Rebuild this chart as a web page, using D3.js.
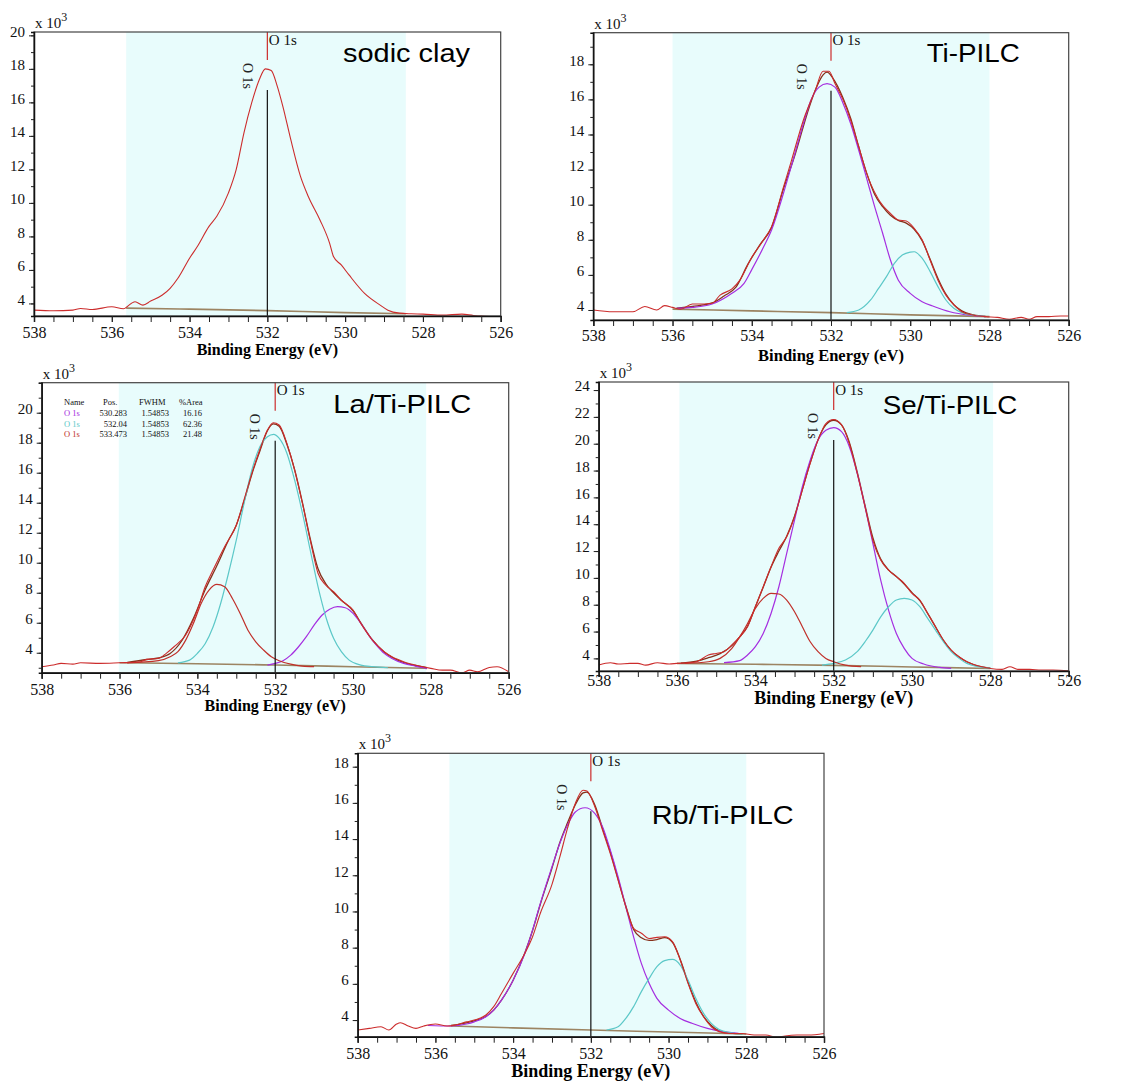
<!DOCTYPE html>
<html>
<head>
<meta charset="utf-8">
<script src="https://cdn.jsdelivr.net/npm/d3@7"></script>
<style>
  html, body { margin: 0; padding: 0; background: #fff; }
  svg { display: block; }
  .tick text { font-family: "Liberation Serif", "Times New Roman", serif; fill: #111; }
</style>
</head>
<body>
<svg id="chart" width="1148" height="1082"></svg>
<script>
// ---------------- data (binding energy in eV, counts in units of 10^3) ----------------
const panelNames = ["sodic clay", "Ti-PILC", "La/Ti-PILC", "Se/Ti-PILC", "Rb/Ti-PILC"];
const energyTicks = [538, 536, 534, 532, 530, 528, 526];
const peakLabel = "O 1s";
const xAxisTitle = "Binding Energy (eV)";

// sodic clay
const sodicRaw = [[538,3.6],[537.5,3.56],[537,3.6],[536.8,3.7],[536.5,3.64],[536,3.8],[535.7,3.68],[535.5,4.0],[535.4,4.1],[535.2,3.9],[535,4.14],[534.7,4.5],[534.5,4.9],[534.3,5.5],[534,6.7],[533.8,7.4],[533.5,8.6],[533.3,9.2],[533,10.6],[532.8,12.0],[532.6,14.2],[532.4,16.0],[532.2,17.4],[532.05,18.0],[531.9,17.9],[531.75,17.0],[531.6,15.75],[531.4,13.8],[531.15,11.6],[530.95,10.4],[530.65,9.0],[530.4,7.6],[530.3,6.8],[530.1,6.3],[529.9,5.7],[529.5,4.6],[529.1,3.9],[528.9,3.6],[528.6,3.42],[528.3,3.38],[528,3.36],[527.5,3.3],[527,3.36],[526.7,3.28],[526.5,3.24],[526.3,3.22]];
const sodicBase = [[535.63,3.72],[534,3.66],[532,3.57],[530,3.45],[528.44,3.38]];

// Ti-PILC
const tiRaw = [[538,4.0],[537.5,3.9],[537,3.9],[536.7,4.2],[536.4,4.0],[536.2,4.25],[536,4.15],[535.8,4.04],[535.5,4.34],[535.2,4.34],[535,4.38],[534.8,4.85],[534.5,5.2],[534.3,5.7],[534,7.0],[533.7,8.0],[533.5,8.75],[533.2,11.0],[533,12.5],[532.7,14.8],[532.4,16.5],[532.2,17.6],[532.05,17.6],[531.9,16.9],[531.7,16.0],[531.5,14.8],[531.3,13.3],[531.1,11.8],[531,11.2],[530.8,10.3],[530.5,9.5],[530.3,9.13],[530.1,9.07],[529.9,8.65],[529.7,8.0],[529.5,6.85],[529.3,5.7],[529.1,4.85],[528.9,4.3],[528.7,3.9],[528.4,3.7],[528.1,3.62],[527.8,3.58],[527.5,3.47],[527.2,3.58],[527,3.47],[526.8,3.62],[526.5,3.62],[526.2,3.66],[526,3.66]];
const tiFit = [[535.9,4.1],[535.5,4.2],[535,4.4],[534.7,4.8],[534.4,5.3],[534.1,6.6],[533.8,7.7],[533.5,8.7],[533.2,10.9],[532.9,12.9],[532.6,15.2],[532.4,16.5],[532.2,17.4],[532.1,17.55],[531.95,17.2],[531.7,16.1],[531.5,14.9],[531.3,13.3],[531.1,11.8],[530.9,10.6],[530.7,9.9],[530.5,9.4],[530.3,9.1],[530.1,8.95],[529.9,8.6],[529.7,7.95],[529.5,6.9],[529.3,5.8],[529.1,4.9],[528.9,4.3],[528.7,3.95],[528.4,3.72],[528.1,3.63]];
const tiMain = [[535.9,4.1],[535.5,4.15],[535,4.34],[534.5,4.95],[534.2,5.5],[534,6.3],[533.7,7.6],[533.5,8.56],[533.2,10.65],[533,12.2],[532.7,14.6],[532.5,16.0],[532.3,16.7],[532.1,16.9],[531.9,16.7],[531.7,15.8],[531.5,14.6],[531.3,13.1],[531.1,11.5],[530.9,9.9],[530.7,8.4],[530.5,6.85],[530.3,5.7],[530,4.95],[529.7,4.47],[529.4,4.2],[529,3.9],[528.5,3.7],[528.1,3.62]];
const tiLow = [[531.6,3.85],[531.3,4.0],[531,4.57],[530.8,5.23],[530.6,5.9],[530.4,6.66],[530.2,7.13],[530,7.3],[529.9,7.32],[529.7,6.95],[529.5,6.2],[529.3,5.33],[529.1,4.57],[528.9,4.1],[528.7,3.85],[528.4,3.7],[528.1,3.62]];
const tiBase = [[536,4.05],[534,3.95],[532,3.85],[530,3.72],[528,3.62]];

// La/Ti-PILC
const laRaw = [[538,3.07],[537.7,3.18],[537.5,3.29],[537.2,3.24],[537,3.33],[536.5,3.29],[536,3.33],[535.5,3.38],[535.3,3.56],[535,3.62],[534.8,3.96],[534.6,4.4],[534.3,5.18],[534,6.84],[533.8,8.4],[533.6,9.5],[533.3,11.07],[533,12.5],[532.8,14.2],[532.6,15.96],[532.4,17.5],[532.2,18.84],[532.05,19.33],[531.9,19.18],[531.7,17.96],[531.5,16.18],[531.3,13.96],[531.1,11.5],[530.9,9.3],[530.7,8.5],[530.5,8.07],[530.3,7.5],[530,6.84],[529.8,5.96],[529.5,4.84],[529.2,4.07],[529,3.73],[528.7,3.4],[528.4,3.18],[528,2.96],[527.7,2.84],[527.5,2.84],[527.2,2.67],[527,2.84],[526.8,2.73],[526.5,3.02],[526.3,3.07],[526,2.73]];
const laFit = [[535.8,3.35],[535.3,3.55],[535,3.65],[534.7,3.95],[534.4,4.8],[534.1,6.3],[533.8,8.2],[533.5,9.8],[533.2,11.5],[533,12.5],[532.8,14.1],[532.6,15.9],[532.4,17.4],[532.2,18.8],[532.05,19.25],[531.9,19.1],[531.7,17.9],[531.5,16.2],[531.3,14.0],[531.1,11.6],[530.9,9.6],[530.7,8.6],[530.5,8.0],[530.3,7.5],[530,6.8],[529.8,6.0],[529.5,4.85],[529.2,4.05],[529,3.7],[528.7,3.35],[528.4,3.15],[528.1,3.0]];
const laLow = [[532.2,3.18],[532,3.29],[531.8,3.47],[531.6,3.84],[531.4,4.4],[531.2,5.07],[531,5.84],[530.8,6.5],[530.6,6.9],[530.4,7.07],[530.2,7.0],[530,6.62],[529.8,5.96],[529.6,5.18],[529.4,4.51],[529.2,3.96],[529,3.62],[528.7,3.29],[528.4,3.11],[528.1,2.96]];
const laMain = [[534.5,3.33],[534.2,3.51],[534,3.96],[533.8,4.6],[533.6,5.7],[533.4,7.3],[533.2,9.3],[533,11.5],[532.8,13.96],[532.6,16.18],[532.4,17.7],[532.2,18.4],[532.04,18.56],[531.9,18.3],[531.7,17.3],[531.5,15.5],[531.3,13.3],[531.1,10.84],[530.9,8.4],[530.7,6.4],[530.5,4.96],[530.3,4.07],[530.1,3.51],[529.8,3.18],[529.5,3.07],[529.1,3.0]];
const laHigh = [[535.8,3.33],[535,3.47],[534.7,3.73],[534.5,4.07],[534.3,4.84],[534.1,5.96],[533.9,7.3],[533.7,8.18],[533.5,8.56],[533.3,8.4],[533.1,7.62],[532.9,6.62],[532.7,5.5],[532.5,4.73],[532.3,4.18],[532.1,3.73],[531.9,3.47],[531.6,3.24],[531.3,3.11],[531,3.07]];
const laBase = [[536,3.33],[534,3.27],[532,3.18],[530,3.07],[528.1,2.96]];

// peak table shown inside the La/Ti-PILC panel
const tableHeader = ["Name", "Pos.", "FWHM", "%Area"];
const tableNames = ["O 1s", "O 1s", "O 1s"];
const tablePos = ["530.283", "532.04", "533.473"];
const tableFwhm = ["1.54853", "1.54853", "1.54853"];
const tableArea = ["16.16", "62.36", "21.48"];

// Se/Ti-PILC
const seRaw = [[538,3.5],[537.7,3.68],[537.5,3.58],[537.2,3.63],[537,3.63],[536.8,3.5],[536.5,3.68],[536.2,3.58],[536,3.63],[535.7,3.68],[535.5,3.75],[535.2,4.25],[535,4.37],[534.8,4.5],[534.6,5.0],[534.4,5.6],[534.2,6.36],[534,7.85],[533.8,9.34],[533.6,10.83],[533.4,12.2],[533.2,13.07],[533,14.56],[532.8,16.55],[532.6,18.53],[532.4,20.27],[532.2,21.5],[532,21.8],[531.8,21.4],[531.6,20.0],[531.4,17.8],[531.2,15.3],[531,12.8],[530.8,11.33],[530.6,10.58],[530.4,10.09],[530.2,9.6],[530,8.84],[529.8,8.35],[529.6,7.35],[529.4,6.36],[529.2,5.37],[529,4.62],[528.8,4.12],[528.6,3.75],[528.3,3.43],[528,3.25],[527.7,3.18],[527.5,3.38],[527.3,3.18],[527,3.18],[526.7,3.13],[526.4,3.13],[526,3.08]];
const seFit = [[535.9,3.65],[535.5,3.8],[535.2,4.05],[534.9,4.35],[534.6,4.95],[534.4,5.6],[534.2,6.4],[534,7.85],[533.8,9.3],[533.6,10.8],[533.4,12.0],[533.2,13.1],[533,14.6],[532.8,16.6],[532.6,18.6],[532.4,20.3],[532.2,21.4],[532,21.75],[531.8,21.4],[531.6,20.1],[531.4,17.9],[531.2,15.4],[531,13.0],[530.8,11.4],[530.6,10.6],[530.4,10.1],[530.2,9.55],[530,8.9],[529.8,8.3],[529.6,7.35],[529.4,6.35],[529.2,5.35],[529,4.6],[528.8,4.1],[528.6,3.75],[528.3,3.43],[528,3.28]];
const seMain = [[534.8,3.68],[534.4,3.83],[534.2,4.25],[534,4.87],[533.8,5.86],[533.6,7.35],[533.4,9.34],[533.2,11.83],[533,14.3],[532.8,16.8],[532.6,18.78],[532.4,20.27],[532.2,21.0],[532,21.2],[531.8,20.9],[531.6,19.78],[531.4,17.8],[531.2,15.3],[531,12.57],[530.8,9.84],[530.6,7.6],[530.4,5.86],[530.2,4.75],[530,4.0],[529.7,3.58],[529.3,3.33],[529,3.25]];
const seHigh = [[535.8,3.63],[535.2,3.75],[534.9,4.0],[534.6,4.75],[534.4,5.6],[534.2,6.6],[534,7.73],[533.8,8.47],[533.6,8.84],[533.4,8.8],[533.2,8.35],[533,7.48],[532.8,6.36],[532.6,5.24],[532.4,4.5],[532.2,4.0],[532,3.75],[531.7,3.5],[531.3,3.38]];
const seLow = [[532.3,3.5],[532,3.63],[531.7,3.88],[531.4,4.5],[531.2,5.24],[531,6.11],[530.8,7.1],[530.6,7.85],[530.4,8.35],[530.2,8.47],[530,8.35],[529.8,7.85],[529.6,6.98],[529.4,6.11],[529.2,5.24],[529,4.5],[528.8,4.0],[528.6,3.63],[528.3,3.38],[528,3.25]];
const seBase = [[536,3.63],[534,3.56],[532,3.48],[530,3.36],[528,3.25]];

// Rb/Ti-PILC
const rbRaw = [[538,3.45],[537.7,3.54],[537.4,3.63],[537.2,3.45],[537,3.78],[536.9,3.85],[536.7,3.67],[536.5,3.54],[536.3,3.67],[536,3.78],[535.7,3.67],[535.5,3.72],[535.2,3.9],[535,4.0],[534.7,4.28],[534.5,4.74],[534.3,5.47],[534,6.58],[533.7,7.68],[533.5,8.6],[533.3,9.9],[533,11.5],[532.8,13.0],[532.6,14.6],[532.4,15.97],[532.2,16.7],[532.1,16.65],[531.9,15.8],[531.7,14.5],[531.5,13.2],[531.3,11.74],[531.1,10.26],[530.9,9.07],[530.7,8.8],[530.5,8.51],[530.3,8.57],[530.1,8.6],[529.9,8.33],[529.7,7.32],[529.5,6.03],[529.3,4.92],[529.1,4.18],[528.9,3.63],[528.7,3.36],[528.4,3.26],[528.1,3.26],[527.8,3.17],[527.5,3.17],[527.2,3.04],[527,3.12],[526.7,3.17],[526.4,3.17],[526,3.26]];
const rbFit = [[535.6,3.7],[535.2,3.85],[535,3.95],[534.7,4.2],[534.5,4.55],[534.3,5.1],[534,6.2],[533.7,7.7],[533.5,8.95],[533.3,10.4],[533,12.4],[532.8,13.8],[532.6,14.9],[532.4,15.9],[532.2,16.55],[532.1,16.6],[531.9,15.9],[531.7,14.6],[531.5,13.3],[531.3,11.8],[531.1,10.3],[530.9,9.0],[530.7,8.55],[530.5,8.4],[530.3,8.45],[530.1,8.55],[529.9,8.3],[529.7,7.35],[529.5,6.1],[529.3,5.0],[529.1,4.2],[528.9,3.7],[528.7,3.4],[528.4,3.28],[528.1,3.24]];
const rbMain = [[536.2,3.7],[535.6,3.67],[535.2,3.78],[535,3.9],[534.7,4.18],[534.5,4.55],[534.3,5.1],[534,6.2],[533.7,7.68],[533.5,8.97],[533.3,10.45],[533,12.47],[532.8,13.76],[532.6,14.78],[532.4,15.5],[532.15,15.73],[531.9,15.42],[531.7,14.68],[531.5,13.4],[531.3,11.92],[531.1,10.26],[530.9,8.6],[530.7,7.13],[530.5,6.03],[530.3,5.2],[530,4.55],[529.7,4.09],[529.4,3.82],[529,3.54],[528.6,3.36],[528.2,3.26]];
const rbLow = [[531.6,3.45],[531.3,3.63],[531.1,4.09],[530.9,4.74],[530.7,5.57],[530.5,6.3],[530.3,6.95],[530.1,7.28],[529.9,7.35],[529.7,7.04],[529.5,6.21],[529.3,5.2],[529.1,4.37],[528.9,3.82],[528.7,3.48],[528.4,3.3],[528.1,3.23]];
const rbBase = [[535.6,3.67],[534,3.57],[532,3.45],[530,3.34],[528,3.23]];

// ---------------- styling ----------------
const colors = {
  shade: "#e8fcfc",
  raw: "#cc2c2c",
  fit: "#86301a",
  base: "#9c8462",
  purple: "#a52ee0",
  cyan: "#5cc8c8",
  redComp: "#c0302a",
  frame: "#444"
};

// layout for each panel (pixel frame, y range and decorations)
const panels = [
  { name: panelNames[0], box: [34, 32, 500.7, 316], y: [3.25, 20.2], yMax: 20, shade: [535.63, 528.44],
    raw: sodicRaw, base: sodicBase, fit: null, comps: [], xPad: 4.5,
    title: { x: 343, y: 61.7, w: 127 }, rot: -24.6, axisTitle: { y: 355, size: 16 } },
  { name: panelNames[1], box: [593.3, 32.7, 1068.7, 320], y: [3.43, 19.8], yMax: 18, shade: [536, 528],
    raw: tiRaw, base: tiBase, fit: tiFit, comps: [[tiMain, colors.purple], [tiLow, colors.cyan]], xPad: 4,
    title: { x: 926.7, y: 61.7, w: 93 }, rot: -34.3, axisTitle: { y: 361, size: 16.5 } },
  { name: panelNames[2], box: [41.7, 382.7, 508.7, 672.7], y: [2.67, 22], yMax: 20, shade: [536.02, 528.12],
    raw: laRaw, base: laBase, fit: laFit, comps: [[laLow, colors.purple], [laMain, colors.cyan], [laHigh, colors.redComp]], xPad: 5,
    title: { x: 333.3, y: 412.7, w: 138 }, rot: -25, axisTitle: { y: 711, size: 16 }, table: true },
  { name: panelNames[3], box: [598.7, 382, 1068.7, 671], y: [3.06, 24.6], yMax: 24, shade: [535.94, 527.93],
    raw: seRaw, base: seBase, fit: seFit, comps: [[seMain, colors.purple], [seLow, colors.cyan], [seHigh, colors.redComp]], xPad: -2.5,
    title: { x: 882.7, y: 414, w: 134.6 }, rot: -25.7, axisTitle: { y: 704, size: 18 } },
  { name: panelNames[4], box: [357.7, 753.3, 824, 1036.7], y: [3.08, 18.74], yMax: 18, shade: [535.64, 528],
    raw: rbRaw, base: rbBase, fit: rbFit, comps: [[rbMain, colors.purple], [rbLow, colors.cyan]], xPad: 5,
    title: { x: 651.7, y: 824.3, w: 142 }, rot: -34.2, axisTitle: { y: 1077, size: 18 } }
];

const svg = d3.select("#chart");

panels.forEach((p, i) => {
  const [L, T, R, B] = p.box;
  const x = d3.scaleLinear().domain([538, 526]).range([L, R]);
  const y = d3.scaleLinear().domain(p.y).range([B, T]);
  const g = svg.append("g").attr("class", "panel");

  const clipId = "clip" + i;
  svg.append("clipPath").attr("id", clipId)
    .append("rect").attr("x", L).attr("y", T).attr("width", R - L).attr("height", B - T);

  // fitting region
  g.append("rect")
    .attr("x", x(p.shade[0])).attr("y", T)
    .attr("width", x(p.shade[1]) - x(p.shade[0])).attr("height", B - T)
    .attr("fill", colors.shade);

  const line = d3.line().x(d => x(d[0])).y(d => y(d[1])).curve(d3.curveMonotoneX);
  const plot = g.append("g").attr("clip-path", `url(#${clipId})`);

  plot.append("path").attr("d", line(p.base))
    .attr("fill", "none").attr("stroke", colors.base).attr("stroke-width", 1.6);
  if (p.fit) {
    plot.append("path").attr("d", line(p.fit))
      .attr("fill", "none").attr("stroke", colors.fit).attr("stroke-width", 1.3);
  }
  p.comps.forEach(([data, c]) => {
    plot.append("path").attr("d", line(data))
      .attr("fill", "none").attr("stroke", c).attr("stroke-width", 1.2);
  });
  plot.append("path").attr("d", line(p.raw))
    .attr("fill", "none").attr("stroke", colors.raw).attr("stroke-width", 1.1);

  // peak marker at 532 eV
  const mx = x(532);
  g.append("line").attr("x1", mx).attr("x2", mx).attr("y1", T).attr("y2", T + 28)
    .attr("stroke", colors.raw).attr("stroke-width", 1.2);
  g.append("line").attr("x1", mx).attr("x2", mx).attr("y1", T + 58).attr("y2", B)
    .attr("stroke", "#111").attr("stroke-width", 1.2);
  g.append("text").attr("x", mx + 1.5).attr("y", T + 12.5)
    .attr("font-family", "Liberation Serif, serif").attr("font-size", 15).attr("fill", "#111")
    .text(peakLabel);
  g.append("text")
    .attr("transform", `translate(${mx + p.rot},${T + 31}) rotate(90)`)
    .attr("font-family", "Liberation Serif, serif").attr("font-size", 14).attr("fill", "#222")
    .text(peakLabel);

  // frame
  g.append("rect").attr("x", L).attr("y", T).attr("width", R - L).attr("height", B - T)
    .attr("fill", "none").attr("stroke", colors.frame).attr("stroke-width", 1.2);

  // x axis: minor ticks every 0.5 eV, labelled every 2 eV
  const xMinor = d3.axisBottom(x).tickValues(d3.range(526, 538.01, 0.5)).tickSize(6).tickFormat("");
  g.append("g").attr("transform", `translate(0,${B})`).call(xMinor)
    .call(a => a.select(".domain").attr("stroke", "#111").attr("stroke-width", 1.5))
    .call(a => a.selectAll("line").attr("stroke", "#222"));
  const xMajor = d3.axisBottom(x).tickValues(energyTicks).tickSize(6).tickPadding(p.xPad).tickFormat(d3.format("d"));
  g.append("g").attr("transform", `translate(0,${B})`).call(xMajor)
    .call(a => a.select(".domain").remove())
    .call(a => a.selectAll("line").attr("stroke", "#222"))
    .call(a => a.selectAll("text").attr("font-size", 16).attr("font-family", "Liberation Serif, serif"));

  // y axis: minor tick per 10^3, labels every 2x10^3
  const yMinor = d3.axisLeft(y).tickValues(d3.range(Math.ceil(p.y[0]), Math.floor(p.y[1]) + 1)).tickSize(3).tickFormat("");
  g.append("g").attr("transform", `translate(${L},0)`).call(yMinor)
    .call(a => a.select(".domain").attr("stroke", "#111").attr("stroke-width", 1.5))
    .call(a => a.selectAll("line").attr("stroke", "#222"));
  const yMajor = d3.axisLeft(y).tickValues(d3.range(4, p.yMax + 1, 2)).tickSize(5).tickPadding(4).tickFormat(d3.format("d"));
  g.append("g").attr("transform", `translate(${L},0)`).call(yMajor)
    .call(a => a.select(".domain").remove())
    .call(a => a.selectAll("line").attr("stroke", "#222"))
    .call(a => a.selectAll("text").attr("font-size", 15).attr("dy", "0.05em")
      .attr("font-family", "Liberation Serif, serif"));

  // scale factor label
  const sf = g.append("text").attr("x", L + 1).attr("y", T - 4)
    .attr("font-family", "Liberation Serif, serif").attr("font-size", 15).attr("fill", "#111");
  sf.append("tspan").text("x 10");
  sf.append("tspan").attr("dy", -7).attr("font-size", 12).text("3");

  // sample name
  g.append("text").attr("x", p.title.x).attr("y", p.title.y)
    .attr("font-family", "Liberation Sans, Arial, sans-serif").attr("font-size", 25).attr("fill", "#000")
    .attr("textLength", p.title.w).attr("lengthAdjust", "spacingAndGlyphs")
    .text(p.name);

  // axis title
  g.append("text").attr("x", (L + R) / 2).attr("y", p.axisTitle.y)
    .attr("text-anchor", "middle")
    .attr("font-family", "Liberation Serif, serif").attr("font-weight", "bold")
    .attr("font-size", p.axisTitle.size).attr("fill", "#000")
    .text(xAxisTitle);

  // component table
  if (p.table) {
    const tf = { "font-family": "Liberation Serif, serif", "font-size": 8.5 };
    const tg = g.append("g");
    const hx = [64, 103, 139, 179];
    tableHeader.forEach((h, k) => {
      const t = tg.append("text").attr("x", hx[k]).attr("y", T + 22.5).attr("fill", "#111").text(h);
      Object.entries(tf).forEach(([a, v]) => t.attr(a, v));
    });
    const rowColors = [colors.purple, colors.cyan, colors.redComp];
    tableNames.forEach((n, r) => {
      const ry = T + 33 + r * 10.8;
      const cells = [[n, 64, "start", rowColors[r]], [tablePos[r], 127, "end", "#111"],
                     [tableFwhm[r], 169, "end", "#111"], [tableArea[r], 202, "end", "#111"]];
      cells.forEach(([txt, cx, anchor, fill]) => {
        const t = tg.append("text").attr("x", cx).attr("y", ry).attr("text-anchor", anchor)
          .attr("fill", fill).text(txt);
        Object.entries(tf).forEach(([a, v]) => t.attr(a, v));
      });
    });
  }
});
</script>
</body>
</html>
